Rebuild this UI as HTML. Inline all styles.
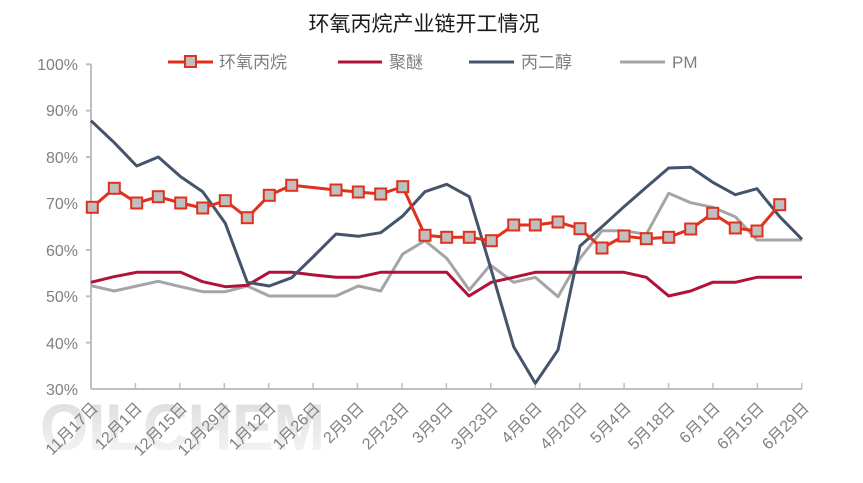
<!DOCTYPE html>
<html><head><meta charset="utf-8"><style>
html,body{margin:0;padding:0;background:#fff;}
svg{display:block;}
text{font-family:"Liberation Sans","Noto Sans CJK SC",sans-serif;}
</style></head><body>
<svg width="863" height="483" viewBox="0 0 863 483" xmlns="http://www.w3.org/2000/svg">
<defs><linearGradient id="wm" x1="0" y1="0" x2="0" y2="1"><stop offset="0" stop-color="#dadada"/><stop offset="1" stop-color="#f8f8f8"/></linearGradient></defs>
<text x="40" y="450" font-size="66" font-weight="bold" fill="url(#wm)" textLength="285" lengthAdjust="spacingAndGlyphs" font-family="Liberation Sans, sans-serif">OILCHEM</text>
<text x="424" y="31" font-size="21" fill="#1a1a1a" text-anchor="middle">环氧丙烷产业链开工情况</text>
<!-- legend -->
<g font-size="17" fill="#7f7f7f">
<line x1="168" y1="62" x2="213" y2="62" stroke="#e0301e" stroke-width="3"/><rect x="185" y="56" width="11" height="11" fill="#bfbfbf" stroke="#e0301e" stroke-width="2"/>
<text x="219" y="68">环氧丙烷</text>
<line x1="338" y1="62" x2="382" y2="62" stroke="#b0123a" stroke-width="3"/><text x="389" y="68">聚醚</text>
<line x1="469" y1="62" x2="514" y2="62" stroke="#44546a" stroke-width="3"/><text x="521" y="68">丙二醇</text>
<line x1="620" y1="62" x2="665" y2="62" stroke="#a5a5a5" stroke-width="3"/><text x="672" y="68">PM</text>
</g>
<!-- axes -->
<g stroke="#bfbfbf" stroke-width="2">
<line x1="91" y1="64" x2="91" y2="389"/>
<line x1="91" y1="389" x2="802" y2="389"/>
<line x1="86" y1="64.3" x2="91" y2="64.3"/><line x1="86" y1="110.7" x2="91" y2="110.7"/><line x1="86" y1="157.1" x2="91" y2="157.1"/><line x1="86" y1="203.5" x2="91" y2="203.5"/><line x1="86" y1="249.9" x2="91" y2="249.9"/><line x1="86" y1="296.3" x2="91" y2="296.3"/><line x1="86" y1="342.7" x2="91" y2="342.7"/>
</g>
<g stroke="#bfbfbf" stroke-width="1.5">
<line x1="135.4" y1="389" x2="135.4" y2="383"/><line x1="179.8" y1="389" x2="179.8" y2="383"/><line x1="224.3" y1="389" x2="224.3" y2="383"/><line x1="268.7" y1="389" x2="268.7" y2="383"/><line x1="313.1" y1="389" x2="313.1" y2="383"/><line x1="357.5" y1="389" x2="357.5" y2="383"/><line x1="402" y1="389" x2="402" y2="383"/><line x1="446.4" y1="389" x2="446.4" y2="383"/><line x1="490.8" y1="389" x2="490.8" y2="383"/><line x1="535.2" y1="389" x2="535.2" y2="383"/><line x1="579.7" y1="389" x2="579.7" y2="383"/><line x1="624.1" y1="389" x2="624.1" y2="383"/><line x1="668.5" y1="389" x2="668.5" y2="383"/><line x1="712.9" y1="389" x2="712.9" y2="383"/><line x1="757.4" y1="389" x2="757.4" y2="383"/><line x1="801.8" y1="389" x2="801.8" y2="383"/>
</g>
<g font-size="16" fill="#808080" text-anchor="end">
<text x="78" y="70">100%</text><text x="78" y="116">90%</text><text x="78" y="163">80%</text><text x="78" y="209">70%</text><text x="78" y="256">60%</text><text x="78" y="302">50%</text><text x="78" y="349">40%</text><text x="78" y="395">30%</text>
</g>
<g font-size="16" fill="#808080" text-anchor="end">
<text transform="translate(99,409) rotate(-45)">11月17日</text>
<text transform="translate(143,409) rotate(-45)">12月1日</text>
<text transform="translate(188,409) rotate(-45)">12月15日</text>
<text transform="translate(232,409) rotate(-45)">12月29日</text>
<text transform="translate(277,409) rotate(-45)">1月12日</text>
<text transform="translate(321,409) rotate(-45)">1月26日</text>
<text transform="translate(365,409) rotate(-45)">2月9日</text>
<text transform="translate(410,409) rotate(-45)">2月23日</text>
<text transform="translate(454,409) rotate(-45)">3月9日</text>
<text transform="translate(499,409) rotate(-45)">3月23日</text>
<text transform="translate(543,409) rotate(-45)">4月6日</text>
<text transform="translate(588,409) rotate(-45)">4月20日</text>
<text transform="translate(632,409) rotate(-45)">5月4日</text>
<text transform="translate(676,409) rotate(-45)">5月18日</text>
<text transform="translate(721,409) rotate(-45)">6月1日</text>
<text transform="translate(765,409) rotate(-45)">6月15日</text>
<text transform="translate(810,409) rotate(-45)">6月29日</text>
</g>
<g fill="none" stroke-width="3" stroke-linejoin="round">
<polyline stroke="#a5a5a5" points="91,285.7 114.3,291 136.7,286 158.3,281.3 180.7,286.7 202.7,291.7 225.3,291.7 247.3,286 269.3,296 291.7,296 314,296 336,296 358.3,286 380.7,291 402.7,254 425,240.7 446.7,258.3 469.3,290 490.3,265 513.7,282.3 535.3,277.3 558,296.7 580,258.3 602,230.7 624,230.7 646.3,234.3 668.7,193.3 690.7,202.7 712.7,207.3 735.3,216.7 757,240 779.5,240 802,240"/>
<polyline stroke="#b0123a" points="91,282.3 114,276.7 136.7,272.3 158.3,272.3 180.7,272.3 202.7,281.7 225.3,286.7 247.3,285.3 269.3,272.3 291.7,272.3 314,275 336,277.3 358.3,277.3 380.7,272.3 402.7,272.3 425,272.3 446.7,272.3 469,296 491.3,282.3 513.7,277.3 535.3,272.3 558,272.3 580,272.3 602,272.3 624,272.3 646.3,277.3 668.7,296 690.7,291 712.7,282.3 735.3,282.3 757,277.3 779.5,277.3 802,277.3"/>
<polyline stroke="#44546a" points="91,120.7 114.3,142.7 136.7,166 158.3,157 180.7,176.7 202.7,191.7 225.3,223.3 247.3,282.3 269.3,286 291.7,277.7 314,256 336,234 358.3,236.3 380.7,232.7 402.7,216 425,191.7 446.7,184.3 469.3,196.7 490.3,266.7 513.7,346.7 535.3,383.3 558,350 580,246 602,226.7 624,206.7 646.3,187.3 668.7,168 690.7,167.3 712.7,182.3 735.3,194.7 757,188.7 779.7,216.7 802,239.3"/>
<polyline stroke="#e0301e" points="92.3,207.3 114.3,188.3 136.7,203 158.3,196.7 180.7,203 202.7,208 225.3,200.7 247.3,217.7 269.3,195.3 291.7,185.3 336,190 358.3,192 380.7,194 402.7,186.7 425,235.3 446.7,237.3 469.3,237.3 491.3,240.7 513.7,225 535.3,225 558,222 580,228.7 602,248 624,236 646.3,238.7 668.7,237.3 690.7,229 712.7,213.3 735.3,228 757,231 779.7,204.7"/>
</g>
<g fill="#bfbfbf" stroke="#e0301e" stroke-width="2">
<rect x="86.8" y="201.8" width="11" height="11"/><rect x="108.8" y="182.8" width="11" height="11"/><rect x="131.2" y="197.5" width="11" height="11"/><rect x="152.8" y="191.2" width="11" height="11"/><rect x="175.2" y="197.5" width="11" height="11"/><rect x="197.2" y="202.5" width="11" height="11"/><rect x="219.8" y="195.2" width="11" height="11"/><rect x="241.8" y="212.2" width="11" height="11"/><rect x="263.8" y="189.8" width="11" height="11"/><rect x="286.2" y="179.8" width="11" height="11"/><rect x="330.5" y="184.5" width="11" height="11"/><rect x="352.8" y="186.5" width="11" height="11"/><rect x="375.2" y="188.5" width="11" height="11"/><rect x="397.2" y="181.2" width="11" height="11"/><rect x="419.5" y="229.8" width="11" height="11"/><rect x="441.2" y="231.8" width="11" height="11"/><rect x="463.8" y="231.8" width="11" height="11"/><rect x="485.8" y="235.2" width="11" height="11"/><rect x="508.2" y="219.5" width="11" height="11"/><rect x="529.8" y="219.5" width="11" height="11"/><rect x="552.5" y="216.5" width="11" height="11"/><rect x="574.5" y="223.2" width="11" height="11"/><rect x="596.5" y="242.5" width="11" height="11"/><rect x="618.5" y="230.5" width="11" height="11"/><rect x="640.8" y="233.2" width="11" height="11"/><rect x="663.2" y="231.8" width="11" height="11"/><rect x="685.2" y="223.5" width="11" height="11"/><rect x="707.2" y="207.8" width="11" height="11"/><rect x="729.8" y="222.5" width="11" height="11"/><rect x="751.5" y="225.5" width="11" height="11"/><rect x="774.2" y="199.2" width="11" height="11"/>
</g>
</svg>
</body></html>
